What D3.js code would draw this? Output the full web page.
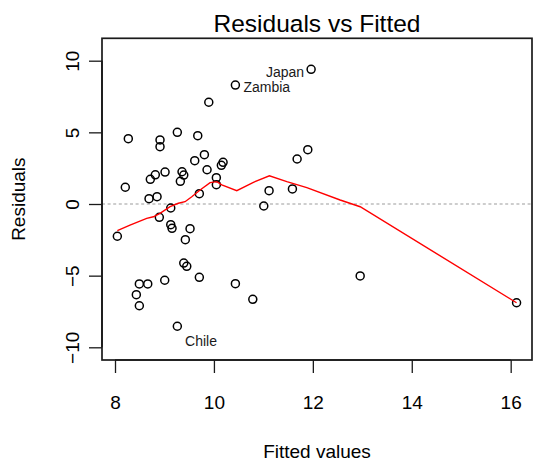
<!DOCTYPE html>
<html>
<head>
<meta charset="utf-8">
<script src="https://cdn.jsdelivr.net/npm/d3@7"></script>
<style>
  html, body { margin: 0; padding: 0; background: #fff; }
  svg { display: block; font-family: "Liberation Sans", Arial, sans-serif; }
</style>
</head>
<body>
<svg id="chart" width="537" height="461"></svg>
<script>
// Fitted values and residuals of the linear model
const fitted = [
  8.269, 8.910, 8.910, 9.260, 9.673, 9.896, 10.434, 11.965, 8.208, 8.714,
  8.815, 9.012, 8.688, 8.850, 9.355, 9.390, 9.321, 9.612, 9.807, 9.861,
  10.150, 10.185, 10.049, 10.049, 9.705, 9.127, 8.896, 11.115, 11.008, 11.587,
  11.682, 11.898, 8.047, 9.127, 9.153, 9.517, 9.422, 9.390, 9.451, 9.005,
  9.705, 8.492, 8.662, 8.431, 8.492, 9.260, 10.434, 10.786, 12.957, 16.119
];
const residuals = [
  4.56, 4.47, 4.00, 5.00, 4.77, 7.10, 8.30, 9.40, 1.17, 1.72,
  2.04, 2.23, 0.37, 0.51, 2.25, 2.02, 1.58, 3.02, 3.44, 2.39,
  2.70, 2.91, 1.84, 1.35, 0.72, -0.28, -0.93, 0.93, -0.14, 1.05,
  3.14, 3.79, -2.25, -1.44, -1.70, -1.72, -2.49, -4.12, -4.35, -5.32,
  -5.12, -5.58, -5.58, -6.33, -7.10, -8.53, -5.56, -6.65, -5.02, -6.89
];

// Points identified by name (index into the arrays above)
const idIndex = [7, 6, 45];
const idNames = ["Japan", "Zambia", "Chile"];

// Smoothed trend of residuals against fitted values
const smoothX = [8.047, 8.303, 8.641, 8.775, 8.910, 9.113, 9.281, 9.416, 9.552, 9.720,
                 9.922, 10.058, 10.159, 10.462, 10.798, 11.122, 11.474, 11.878, 12.552, 12.957, 16.119];
const smoothY = [-1.86, -1.47, -1.00, -0.89, -0.65, -0.19, 0.05, 0.16, 0.51, 0.98,
                 1.49, 1.56, 1.33, 0.93, 1.51, 1.97, 1.56, 1.14, 0.28, -0.19, -6.89];

const xTicks = [8, 10, 12, 14, 16];
const yTicks = [-10, -5, 0, 5, 10];

// Axis limits
const xLimits = [7.737, 16.431];
const yLimits = [-10.886, 11.563];

const svg = d3.select("#chart");
const box = { left: 102, top: 38.3, right: 532, bottom: 360 };

const x = d3.scaleLinear().domain(xLimits).range([box.left, box.right]);
const y = d3.scaleLinear().domain(yLimits).range([box.bottom, box.top]);

const fontSize = 19;
const ink = "#1a1a1a";

// Zero reference line
svg.append("line")
  .attr("x1", box.left).attr("x2", box.right)
  .attr("y1", y(0)).attr("y2", y(0))
  .attr("stroke", "#bdbdbd").attr("stroke-width", 1.3)
  .attr("stroke-dasharray", "3,2.6");

// Points
svg.append("g").selectAll("circle")
  .data(fitted.map((f, i) => [f, residuals[i]]))
  .join("circle")
  .attr("cx", d => x(d[0])).attr("cy", d => y(d[1]))
  .attr("r", 4)
  .attr("fill", "none").attr("stroke", "#000").attr("stroke-width", 1.5);

// Smooth line
svg.append("path")
  .datum(smoothX.map((v, i) => [v, smoothY[i]]))
  .attr("d", d3.line().x(d => x(d[0])).y(d => y(d[1])))
  .attr("fill", "none").attr("stroke", "#ff0000").attr("stroke-width", 1.4);

// Point labels
const labelOffsets = [
  { dx: -7, dy: 8, anchor: "end" },
  { dx: 8, dy: 6.7, anchor: "start" },
  { dx: 7.7, dy: 19.7, anchor: "start" }
];
idIndex.forEach((k, j) => {
  const o = labelOffsets[j];
  svg.append("text")
    .attr("x", x(fitted[k]) + o.dx)
    .attr("y", y(residuals[k]) + o.dy)
    .attr("text-anchor", o.anchor)
    .attr("font-size", 14).attr("fill", ink)
    .text(idNames[j]);
});

// Plot frame
svg.append("rect")
  .attr("x", box.left).attr("y", box.top)
  .attr("width", box.right - box.left).attr("height", box.bottom - box.top)
  .attr("fill", "none").attr("stroke", ink).attr("stroke-width", 1.7);

// X axis
const xAxis = svg.append("g").attr("transform", `translate(0,${box.bottom})`)
  .call(d3.axisBottom(x).tickValues(xTicks).tickSize(13).tickSizeOuter(0).tickPadding(0).tickFormat(d3.format("d")));
xAxis.select(".domain").attr("d", `M${x(8)},0H${x(16)}`).attr("stroke", ink).attr("stroke-width", 1.7);
xAxis.selectAll(".tick line").attr("stroke", ink).attr("stroke-width", 1.3);
xAxis.selectAll(".tick text").attr("font-size", fontSize).attr("font-family", "Liberation Sans, Arial, sans-serif")
  .attr("fill", "#000").attr("dy", null).attr("y", 49);

// Y axis
const yAxis = svg.append("g").attr("transform", `translate(${box.left},0)`)
  .call(d3.axisLeft(y).tickValues(yTicks).tickSize(13).tickSizeOuter(0).tickFormat(d3.format("d")));
yAxis.select(".domain").attr("d", `M0,${y(-10)}V${y(10)}`).attr("stroke", ink).attr("stroke-width", 1.7);
yAxis.selectAll(".tick line").attr("stroke", ink).attr("stroke-width", 1.3);
yAxis.selectAll(".tick text")
  .attr("font-size", fontSize).attr("font-family", "Liberation Sans, Arial, sans-serif")
  .attr("fill", "#000")
  .attr("x", null).attr("y", null).attr("dy", null)
  .attr("text-anchor", "middle")
  .attr("transform", `translate(${78.5 - box.left},0) rotate(-90)`);

// Titles
svg.append("text")
  .attr("x", (box.left + box.right) / 2).attr("y", 31.5)
  .attr("text-anchor", "middle").attr("font-size", 24.5).attr("fill", "#000")
  .text("Residuals vs Fitted");

svg.append("text")
  .attr("x", (box.left + box.right) / 2).attr("y", 458)
  .attr("text-anchor", "middle").attr("font-size", fontSize).attr("fill", "#000")
  .text("Fitted values");

svg.append("text")
  .attr("transform", `translate(25,${(box.top + box.bottom) / 2}) rotate(-90)`)
  .attr("text-anchor", "middle").attr("font-size", fontSize).attr("fill", "#000")
  .text("Residuals");
</script>
</body>
</html>
